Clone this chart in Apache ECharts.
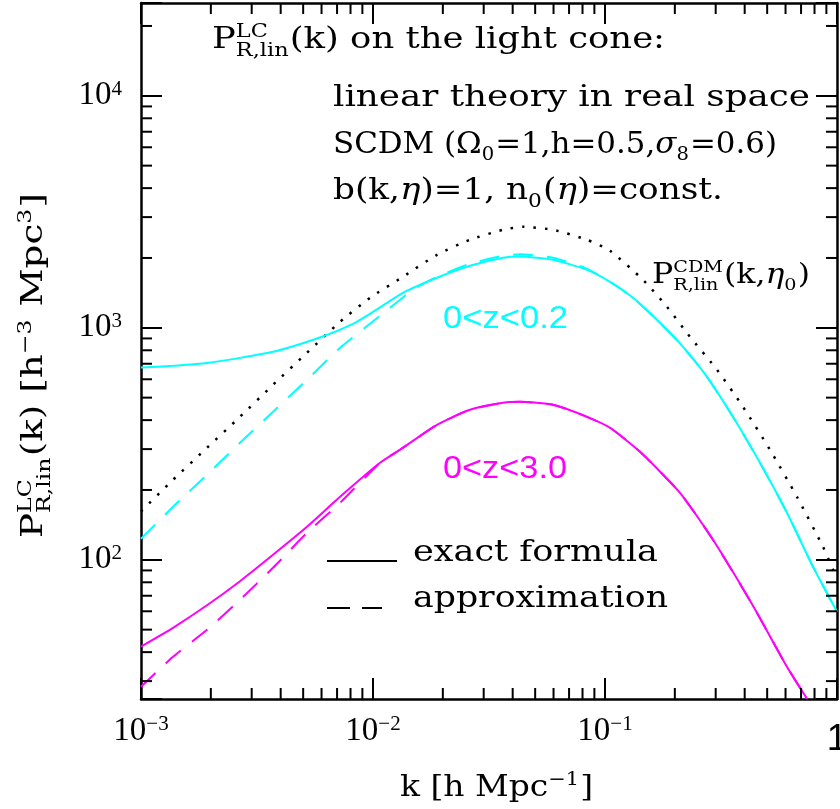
<!DOCTYPE html>
<html><head><meta charset="utf-8">
<script src="https://cdn.jsdelivr.net/npm/echarts@6/dist/echarts.min.js"></script>
<style>html,body{margin:0;padding:0;background:#fff}#c{width:840px;height:809px}</style>
</head><body><div id="c"></div>
<script>
// ---- data ----
const cdmK  = [0.001,0.001374,0.001925,0.002671,0.003707,0.005193,0.007209,0.009707,0.01346,0.01887,0.02618,0.03634,0.04432,0.05969,0.08365,0.1051,0.1458,0.1850,0.2324,0.3040,0.3934,0.5142,0.6722,0.8703,0.9612,1.0];
const cdmP  = [161.5,221.2,303.9,413.4,567.9,780.3,1061,1347,1659,2063,2395,2645,2725,2645,2395,2147,1610,1232,914.9,659.2,456.5,298,186.8,113.8,90.5,82.8];

const cyanExactK  = [0.001,0.001374,0.001925,0.003707,0.006029,0.008203,0.009707,0.01346,0.01887,0.02618,0.03634,0.04301,0.05969,0.08365,0.1051,0.1320,0.1726,0.2169,0.2752,0.3561,0.4657,0.6087,0.7882,1.0];
const cyanExactP  = [674.4,685.8,704.4,788.1,914.9,1040,1149,1415,1643,1850,2003,2029,1964,1778,1579,1347,1051,828.3,614.9,413.4,261.8,159.4,93.3,59.7];

const cyanApproxK = [0.001,0.001374,0.001925,0.002671,0.003707,0.005193,0.007209,0.01020,0.01487,0.01887,0.02618,0.03634,0.04301,0.05969,0.08365,0.1051,0.1320,0.1726,0.2169,0.2752,0.3561,0.4657,0.6087,0.7882,1.0];
const cyanApproxP = [123.2,169.2,232.5,319.4,434.4,597,820,1083,1458,1659,1887,2043,2074,2003,1796,1579,1347,1051,828.3,614.9,413.4,261.8,159.4,93.3,59.7];

const magentaExactK  = [0.001,0.001374,0.001925,0.002671,0.003707,0.005193,0.007209,0.01072,0.01307,0.01887,0.02618,0.03634,0.04301,0.05969,0.08365,0.1051,0.1416,0.2105,0.2921,0.4344,0.6087,0.7425];
const magentaExactP  = [42.29,50.93,63.67,80.87,105.1,138.8,186.8,261.8,298,381.8,443.1,475,479.8,465.8,413.4,370.7,292.1,194.4,122,63.35,34.57,25.18];

const magentaApproxK = [0.001,0.001374,0.001925,0.002671,0.003707,0.005193,0.007209,0.01072,0.01307,0.01887,0.02618,0.03634,0.04301,0.05969,0.08365,0.1051,0.1416,0.2105,0.2921,0.4344,0.6087,0.7425];
const magentaApproxP = [28.35,38.19,49.93,67.24,92.4,130.7,176.0,261.8,298,381.8,443.1,475,479.8,465.8,413.4,370.7,292.1,194.4,122,63.35,34.57,25.18];

const xMajorTicks  = [0.001,0.01,0.1,1];
const yMajorTicks  = [100,1000,10000];
const xMinorTicks  = [0.002,0.003,0.004,0.005,0.006,0.007,0.008,0.009,0.02,0.03,0.04,0.05,0.06,0.07,0.08,0.09,0.2,0.3,0.4,0.5,0.6,0.7,0.8,0.9];
const yMinorTicks  = [30,40,50,60,70,80,90,200,300,400,500,600,700,800,900,2000,3000,4000,5000,6000,7000,8000,9000,20000];
const X_MIN = 0.001, X_MAX = 1, Y_MIN = 25.12, Y_MAX = 25119;

// ---- text helpers ----
const F_SERIF = "'DejaVu Serif'";
const F_TICK = "'Liberation Serif'";
const F_SANS = "'Liberation Sans'";
const mctx = document.createElement('canvas').getContext('2d');
function measure(t, size, fam, st) { mctx.font = (st || 'normal') + ' normal ' + size + 'px ' + fam; return mctx.measureText(t).width; }
function tEl(t, x, base, size, fam, st, color) {
  return {type: 'text', x: x, y: base - 0.346 * size + 2, silent: true,
    style: {text: t, fontSize: size, fontFamily: fam, fontStyle: st || 'normal', fill: color,
      align: 'left', textAlign: 'left', verticalAlign: 'middle', textVerticalAlign: 'middle'}};
}
function mathGroup(parts, opt) {
  const S = opt.size, s = Math.round(S * 0.62), fam = opt.family || F_SERIF, col = opt.color || '#000';
  let x = 0; const ch = [];
  parts.forEach(p => {
    if (typeof p === 'string') p = {t: p};
    if (p.sup != null || p.sub != null) {
      let w = 0;
      if (p.sup != null) { ch.push(tEl(p.sup, x, -0.42 * S, s, fam, null, col)); w = Math.max(w, measure(p.sup, s, fam)); }
      if (p.sub != null) { ch.push(tEl(p.sub, x, 0.22 * S, s, fam, null, col)); w = Math.max(w, measure(p.sub, s, fam)); }
      x += w + 1;
    } else {
      const st = p.it ? 'italic' : null;
      ch.push(tEl(p.t, x, 0, S, fam, st, col));
      x += measure(p.t, S, fam, st);
    }
  });
  const sc = opt.width ? opt.width / x : 1;
  return {type: 'group', x: opt.x, y: opt.y, rotation: opt.rotation || 0, scaleX: sc, children: ch};
}

function isMajor(v, list) { return list.some(t => Math.abs(Math.log10(v) - Math.log10(t)) < 1e-6); }
function powLabel(v) {
  const e = Math.round(Math.log10(v));
  if (e === 0) return '{one|1}';
  return '{b|10}{s|' + (e < 0 ? '\u2212' : '') + Math.abs(e) + '}';
}
const richTick = {
  b: {fontFamily: F_TICK, fontSize: 33, lineHeight: 34, color: '#000'},
  s: {fontFamily: F_TICK, fontSize: 21, lineHeight: 21, verticalAlign: 'top', color: '#000'},
  one: {fontFamily: F_SANS, fontSize: 37, lineHeight: 51, color: '#000'}
};

const axisLineStyle = {show: true, lineStyle: {color: '#000', width: 2.5}};
const majorTick = {show: true, inside: true, length: 21, lineStyle: {color: '#000', width: 2}};

function series(name, ks, ps, color, type, width) {
  return {name: name, type: 'line', xAxisIndex: 0, yAxisIndex: 0, showSymbol: false, symbol: 'none',
    smooth: 0.2, clip: true, animation: false, silent: true,
    data: ks.map((k, i) => [k, ps[i]]),
    lineStyle: {color: color, width: width, type: type, cap: 'butt'}, z: 3};
}

const chart = echarts.init(document.getElementById('c'), null, {renderer: 'canvas'});
chart.setOption({
  animation: false,
  backgroundColor: '#fff',
  grid: {left: 141, right: 3, top: 3, bottom: 110, containLabel: false, outerBoundsMode: 'none'},
  xAxis: [
    {type: 'log', logBase: 10, min: X_MIN, max: X_MAX, position: 'bottom',
      axisLine: axisLineStyle, axisTick: majorTick, splitLine: {show: false}, minorTick: {show: false},
      axisLabel: {show: true, margin: 15, formatter: v => isMajor(v, xMajorTicks) ? powLabel(v) : '', rich: richTick}},
    {type: 'log', logBase: 10, min: X_MIN, max: X_MAX, position: 'top',
      axisLine: axisLineStyle, axisTick: majorTick, splitLine: {show: false}, axisLabel: {show: false}}
  ],
  yAxis: [
    {type: 'log', logBase: 10, min: Y_MIN, max: Y_MAX, position: 'left',
      axisLine: axisLineStyle, axisTick: majorTick, splitLine: {show: false},
      axisLabel: {show: true, margin: 19, formatter: v => isMajor(v, yMajorTicks) ? powLabel(v) : '', rich: richTick}},
    {type: 'log', logBase: 10, min: Y_MIN, max: Y_MAX, position: 'right',
      axisLine: axisLineStyle, axisTick: majorTick, splitLine: {show: false}, axisLabel: {show: false}}
  ],
  series: [
    series('CDM', cdmK, cdmP, '#000', [2.5, 9], 2.5),
    series('0<z<0.2 approx', cyanApproxK, cyanApproxP, '#00ffff', [20, 14], 2),
    series('0<z<0.2 exact', cyanExactK, cyanExactP, '#00ffff', 'solid', 2),
    series('0<z<3.0 approx', magentaApproxK, magentaApproxP, '#ff00ff', [20, 14], 2),
    series('0<z<3.0 exact', magentaExactK, magentaExactP, '#ff00ff', 'solid', 2),
    {type: 'custom', xAxisIndex: 0, yAxisIndex: 0, silent: true, animation: false, z: 5,
      data: xMinorTicks.map(v => [v, Y_MIN]),
      renderItem: (params, api) => {
        const cs = params.coordSys; const p = api.coord([api.value(0), Y_MIN]);
        const st = {stroke: '#000', lineWidth: 2};
        return {type: 'group', children: [
          {type: 'line', shape: {x1: p[0], y1: cs.y + cs.height, x2: p[0], y2: cs.y + cs.height - 11}, style: st},
          {type: 'line', shape: {x1: p[0], y1: cs.y, x2: p[0], y2: cs.y + 11}, style: st}
        ]};
      }},
    {type: 'custom', xAxisIndex: 0, yAxisIndex: 0, silent: true, animation: false, z: 5,
      data: yMinorTicks.map(v => [X_MIN, v]),
      renderItem: (params, api) => {
        const cs = params.coordSys; const p = api.coord([X_MIN, api.value(1)]);
        const st = {stroke: '#000', lineWidth: 2};
        return {type: 'group', children: [
          {type: 'line', shape: {x1: cs.x, y1: p[1], x2: cs.x + 11, y2: p[1]}, style: st},
          {type: 'line', shape: {x1: cs.x + cs.width, y1: p[1], x2: cs.x + cs.width - 11, y2: p[1]}, style: st}
        ]};
      }}
  ],
  graphic: [
    mathGroup(['P', {sup: 'LC', sub: 'R,lin'}, '(k) on the light cone:'], {x: 212, y: 49, size: 30, width: 453}),
    mathGroup(['linear theory in real space'], {x: 333, y: 107, size: 30, width: 477}),
    mathGroup(['SCDM (\u03A9', {sub: '0'}, '=1,h=0.5,', {t: '\u03C3', it: true}, {sub: '8'}, '=0.6)'], {x: 333, y: 153.5, size: 30, width: 444}),
    mathGroup(['b(k,', {t: '\u03B7', it: true}, ')=1, n', {sub: '0'}, '(', {t: '\u03B7', it: true}, ')=const.'], {x: 333, y: 200, size: 30, width: 390}),
    mathGroup(['P', {sup: 'CDM', sub: 'R,lin'}, '(k,', {t: '\u03B7', it: true}, {sub: '0'}, ')'], {x: 652, y: 283, size: 28, width: 158}),
    mathGroup(['0<z<0.2'], {x: 443, y: 328, size: 32, family: F_SANS, color: '#00ffff', width: 125}),
    mathGroup(['0<z<3.0'], {x: 443, y: 478, size: 32, family: F_SANS, color: '#ff00ff', width: 124}),
    mathGroup(['exact formula'], {x: 413, y: 562, size: 30, width: 245}),
    mathGroup(['approximation'], {x: 413, y: 608, size: 30, width: 255}),
    {type: 'line', silent: true, shape: {x1: 327, y1: 561, x2: 397, y2: 561}, style: {stroke: '#000', lineWidth: 2}},
    {type: 'line', silent: true, shape: {x1: 327, y1: 608, x2: 382, y2: 608}, style: {stroke: '#000', lineWidth: 2, lineDash: [23, 12]}},
    mathGroup(['k [h Mpc', {sup: '\u22121'}, ']'], {x: 400, y: 797, size: 30, width: 193}),
    mathGroup(['P', {sup: 'LC', sub: 'R,lin'}, '(k) [h', {sup: '\u22123'}, ' Mpc', {sup: '3'}, ']'], {x: 43, y: 538, size: 30, width: 345, rotation: Math.PI / 2})
  ]
});
</script>
</body></html>
